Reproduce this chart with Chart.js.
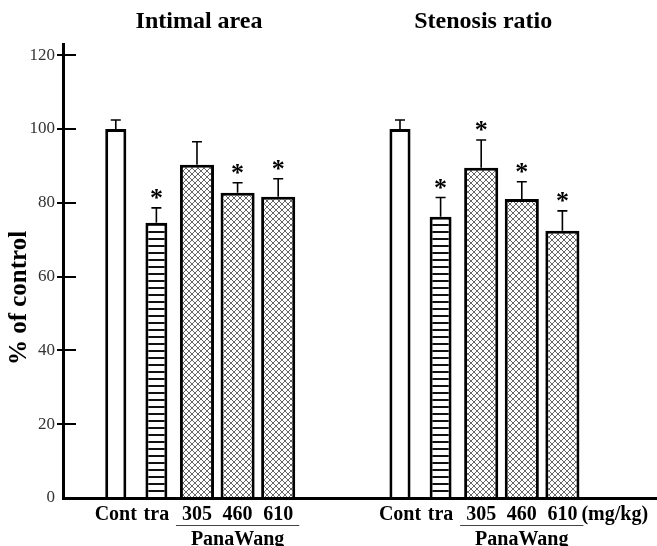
<!DOCTYPE html>
<html>
<head>
<meta charset="utf-8">
<script src="https://cdn.jsdelivr.net/npm/chart.js@4.4.1/dist/chart.umd.min.js"></script>
<style>
  html, body { margin: 0; padding: 0; background: #fff; }
  #wrap { width: 657px; height: 546px; position: relative; }
</style>
</head>
<body>
<div id="wrap"><canvas id="barChart"></canvas></div>
<script>
const groups = ['Cont', 'tra', '305', '460', '610'];
const intimalArea = [100, 74.6, 90.3, 82.7, 81.6];
const intimalSD   = [2.4, 4.0, 6.2, 2.7, 4.9];
const intimalSig  = [false, true, false, true, true];
const stenosisRatio = [100, 76.2, 89.5, 81.0, 72.4];
const stenosisSD    = [2.4, 5.2, 7.5, 4.7, 5.4];
const stenosisSig   = [false, true, true, true, true];
const yTicks = [0, 20, 40, 60, 80, 100, 120];
const panelTitles = ['Intimal area', 'Stenosis ratio'];
const doseGroup = 'PanaWang';
const doseUnit = '(mg/kg)';
const yTitle = '% of control';

const serif = "'Liberation Serif', 'DejaVu Serif', serif";
const panelOffsets = [0, 7];
const panels = [
    { values: intimalArea, sd: intimalSD, sig: intimalSig },
    { values: stenosisRatio, sd: stenosisSD, sig: stenosisSig },
];

function points(idx) {
    return panels.flatMap((p, k) => idx.map(i => ({
        x: panelOffsets[k] + i, y: p.values[i], sd: p.sd[i], sig: p.sig[i],
    })));
}
const tickPos  = panelOffsets.flatMap(o => groups.map((_, i) => o + i));
const tickText = panelOffsets.flatMap(() => groups);

function makePattern(w, h, draw) {
    const c = document.createElement('canvas');
    c.width = w; c.height = h;
    const g = c.getContext('2d');
    g.fillStyle = '#fff';
    g.fillRect(0, 0, w, h);
    draw(g);
    return g.createPattern(c, 'repeat');
}
const stripes = makePattern(4, 7, g => { g.fillStyle = '#111'; g.fillRect(0, 0, 4, 2); });
const hatch = makePattern(6, 6, g => {
    g.strokeStyle = '#666';
    g.lineWidth = 1;
    g.beginPath();
    g.moveTo(0, 0); g.lineTo(6, 6);
    g.moveTo(6, 0); g.lineTo(0, 6);
    g.stroke();
});

const decorations = {
    id: 'decorations',
    afterDatasetsDraw(chart) {
        const { ctx, scales: { y } } = chart;
        ctx.save();
        ctx.strokeStyle = '#000';
        ctx.fillStyle = '#000';
        ctx.lineWidth = 1.6;
        chart.data.datasets.forEach((ds, di) => {
            chart.getDatasetMeta(di).data.forEach((bar, j) => {
                const d = ds.data[j];
                const top = y.getPixelForValue(d.y + d.sd);
                ctx.beginPath();
                ctx.moveTo(bar.x, bar.y);
                ctx.lineTo(bar.x, top);
                ctx.moveTo(bar.x - 5, top);
                ctx.lineTo(bar.x + 5, top);
                ctx.stroke();
                if (d.sig) {
                    ctx.font = `bold 26px ${serif}`;
                    ctx.textAlign = 'center';
                    ctx.textBaseline = 'alphabetic';
                    ctx.fillText('*', bar.x, top - 2);
                }
            });
        });
        ctx.restore();
    },
    afterDraw(chart) {
        const { ctx, chartArea, scales: { x, y } } = chart;
        ctx.save();
        ctx.fillStyle = '#000';
        ctx.strokeStyle = '#000';

        // inner half of the y ticks
        ctx.lineWidth = 2;
        y.ticks.forEach(t => {
            if (t.value === 0) return;
            const py = Math.round(y.getPixelForValue(t.value));
            ctx.beginPath();
            ctx.moveTo(chartArea.left, py);
            ctx.lineTo(chartArea.left + 13, py);
            ctx.stroke();
        });

        // panel titles
        ctx.font = `bold 24px ${serif}`;
        ctx.textAlign = 'center';
        ctx.textBaseline = 'middle';
        panelOffsets.forEach((o, k) => {
            const cx = (x.getPixelForValue(o) + x.getPixelForValue(o + groups.length - 1)) / 2;
            ctx.fillText(panelTitles[k], cx + 2, 22);
        });

        // y axis title
        ctx.save();
        ctx.translate(20, 298);
        ctx.rotate(-Math.PI / 2);
        ctx.font = `bold 25px ${serif}`;
        ctx.fillText(yTitle, 0, 0);
        ctx.restore();

        // unit after the last label
        ctx.font = `bold 20px ${serif}`;
        ctx.textAlign = 'left';
        const last = x.getPixelForValue(tickPos[tickPos.length - 1]);
        ctx.fillText(doseUnit, last + ctx.measureText(groups[groups.length - 1]).width / 2 + 4, 515);

        // PanaWang bracket under the dose groups
        const meta = chart.getDatasetMeta(2);
        ctx.textAlign = 'center';
        ctx.textBaseline = 'alphabetic';
        panelOffsets.forEach((o, k) => {
            const els = meta.data.slice(k * 3, k * 3 + 3);
            const x0 = els[0].x - els[0].width / 2 - 4;
            const x1 = els[2].x + els[2].width / 2 + 4;
            ctx.strokeStyle = '#444';
            ctx.lineWidth = 1;
            ctx.beginPath();
            ctx.moveTo(x0, 525.5);
            ctx.lineTo(x1, 525.5);
            ctx.stroke();
            ctx.fillText(doseGroup, (x0 + x1) / 2, 545);
        });
        ctx.restore();
    },
};

new Chart(document.getElementById('barChart'), {
    type: 'bar',
    data: {
        datasets: [
            { label: 'Cont', data: points([0]), backgroundColor: '#fff', barPercentage: 0.52 },
            { label: 'tra', data: points([1]), backgroundColor: stripes, barPercentage: 0.54 },
            { label: doseGroup, data: points([2, 3, 4]), backgroundColor: hatch, barPercentage: 0.84 },
        ],
    },
    options: {
        responsive: true,
        maintainAspectRatio: false,
        animation: false,
        layout: { padding: { top: 44, left: 0, right: 0, bottom: 0 } },
        datasets: {
            bar: {
                grouped: false,
                categoryPercentage: 1,
                borderColor: '#000',
                borderWidth: 3,
                borderSkipped: 'start',
            },
        },
        plugins: {
            legend: { display: false },
            tooltip: { enabled: false },
        },
        scales: {
            x: {
                type: 'linear',
                bounds: 'data',
                offset: false,
                min: -1.3,
                max: 13.33,
                afterBuildTicks: s => { s.ticks = tickPos.map(v => ({ value: v })); },
                afterFit: s => { s.height = 48; },
                grid: { display: false, drawTicks: false, offset: false },
                border: { display: true, color: '#000', width: 3 },
                ticks: {
                    autoSkip: false,
                    maxRotation: 0,
                    padding: 5,
                    color: '#000',
                    font: { family: serif, size: 20, weight: 'bold' },
                    callback: (v, i) => tickText[i],
                },
            },
            y: {
                min: 0,
                max: 123,
                afterBuildTicks: s => { s.ticks = yTicks.map(v => ({ value: v })); },
                afterFit: s => { s.width = 63; },
                grid: {
                    drawOnChartArea: false,
                    drawTicks: true,
                    tickLength: 6,
                    lineWidth: 2,
                    color: c => (c.tick && c.tick.value === 0 ? 'rgba(0,0,0,0)' : '#000'),
                },
                border: { display: true, color: '#000', width: 3 },
                ticks: {
                    padding: 2,
                    color: '#333',
                    font: { family: serif, size: 17 },
                },
            },
        },
    },
    plugins: [decorations],
});
</script>
</body>
</html>
